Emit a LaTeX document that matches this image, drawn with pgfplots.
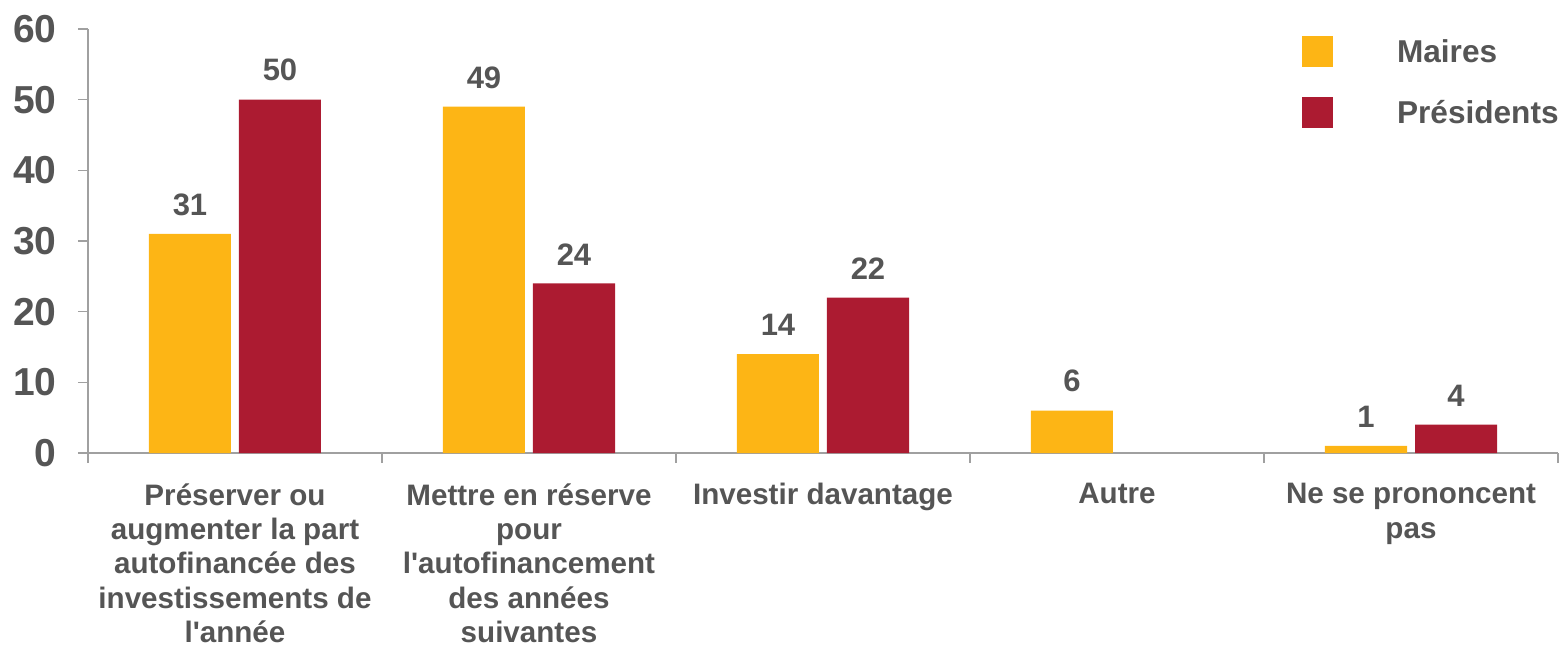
\documentclass[border=0pt]{standalone}
\usepackage{fontspec}
\setmainfont{Liberation Sans}
\usepackage{pgfplots}
\pgfplotsset{compat=1.18}
\definecolor{maires}{HTML}{FDB515}
\definecolor{pres}{HTML}{AC1B31}
\definecolor{txt}{HTML}{555555}
\definecolor{axgray}{HTML}{A0A0A0}
\begin{document}
\begin{tikzpicture}
\begin{axis}[
  name=ax,
  at={(0,0)}, anchor=south west,
  scale only axis, width=735pt, height=212pt,
  xmin=-0.5, xmax=4.5, ymin=0, ymax=60,
  axis x line=bottom, axis y line=left,
  axis line style={axgray, line width=0.8pt, -},
  every tick/.style={axgray, line width=0.8pt},
  tick align=outside,
  major tick length=5pt,
  ytick={0,10,...,60},
  /pgf/number format/assume math mode=true,
  yticklabel style={font=\fontsize{19.5}{22}\selectfont\bfseries, text=txt, inner sep=0pt, xshift=-10.5pt},
  xtick={-0.5,0.5,...,4.5}, xticklabels={},
  extra x ticks={0,1,2,3,4},
  extra x tick labels={{Préserver ou\\augmenter la part\\autofinancée des\\investissements de\\l\textquotesingle année},
    {Mettre en réserve\\pour\\l\textquotesingle autofinancement\\des années\\suivantes},
    {Investir davantage},{Autre},{Ne se prononcent\\pas}},
  extra x tick style={major tick length=0pt,
    tick label style={font=\fontsize{14.8}{17.2}\selectfont\bfseries, text=txt, align=center, anchor=north, inner sep=0pt, yshift=-15pt}},
  ybar=4pt, bar width=41pt,
  nodes near coords,
  every node near coord/.append style={font=\fontsize{15.5}{18}\selectfont\bfseries, text=txt, inner sep=0pt, yshift=9pt},
  legend style={at={(0.8259,0.9835)}, anchor=north west, draw=none, fill=none, inner sep=0pt, outer sep=0pt, row sep=15pt,
    font=\fontsize{15.8}{18}\selectfont\bfseries, text=txt,
    nodes={inner sep=0pt, text height=11.3pt, text depth=0pt}},
  legend cell align=left,
  legend image code/.code={\fill[#1] (0pt,-7.75pt) rectangle (15.5pt,7.75pt); \path (47.5pt,0pt);},
]
\addplot[fill=maires, draw=none] coordinates {(0,31) (1,49) (2,14) (3,6) (4,1)};
\addplot[fill=pres, draw=none] coordinates {(0,50) (1,24) (2,22) (4,4)};
\legend{Maires,Présidents}
\end{axis}
\pgfresetboundingbox
\path[use as bounding box] (-44pt,-98pt) rectangle (738pt,226.5pt);
\end{tikzpicture}
\end{document}
